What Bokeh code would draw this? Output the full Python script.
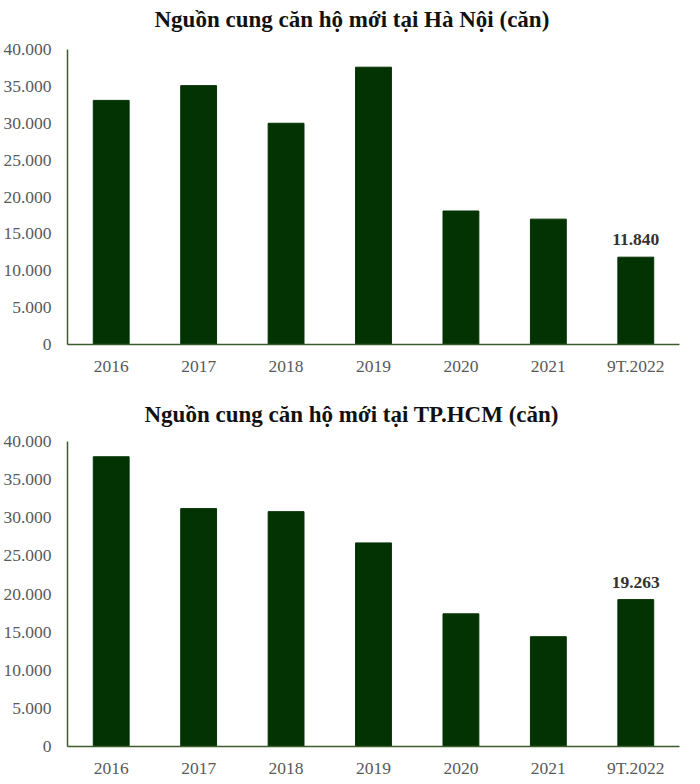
from bokeh.plotting import figure
from bokeh.layouts import column
from bokeh.models import FixedTicker, ColumnDataSource, Label, Range1d
from bokeh.core.properties import value
from bokeh.embed import file_html
from bokeh.resources import INLINE

categories = ["2016", "2017", "2018", "2019", "2020", "2021", "9T.2022"]
hanoi_values = [33100, 35100, 30000, 37600, 18100, 17000, 11840]
hcm_values = [38000, 31200, 30800, 26700, 17400, 14400, 19263]
hanoi_title = "Nguồn cung căn hộ mới tại Hà Nội (căn)"
hcm_title = "Nguồn cung căn hộ mới tại TP.HCM (căn)"
hanoi_last_label = "11.840"
hcm_last_label = "19.263"
y_ticks = [0, 5000, 10000, 15000, 20000, 25000, 30000, 35000, 40000]
y_tick_labels = ["0", "5.000", "10.000", "15.000", "20.000", "25.000", "30.000", "35.000", "40.000"]

BAR = "#033303"
AXIS = "#3d5c2e"
TXT = "#595959"
FONT = "Liberation Serif"


def make_chart(vals, title, last_label, frame_h, axis_px, bottom_b, title_x, title_y):
    y_max = y_ticks[-1]
    # the frame also holds the title; axis_px pixels cover 0..y_max
    y_top = y_max * frame_h / axis_px
    p = figure(x_range=categories, y_range=Range1d(0, y_top), output_backend="svg",
               toolbar_location=None, frame_width=612, frame_height=frame_h,
               min_border_left=60, min_border_right=10, min_border_top=0,
               min_border_bottom=bottom_b)
    p.add_layout(Label(x=title_x, y=title_y, x_units="screen", y_units="screen",
                       text=title, text_font=FONT, text_font_style="bold",
                       text_font_size="23px", text_color="#111111",
                       text_baseline="alphabetic", text_align="left"))
    p.x_range.range_padding = 0
    src = ColumnDataSource(dict(x=categories, top=vals))
    p.vbar(x="x", top="top", width=0.41, source=src, fill_color=BAR, line_color=BAR)
    lab = ColumnDataSource(dict(x=[categories[-1]], y=[vals[-1]], t=[last_label]))
    p.text(x="x", y="y", text="t", source=lab, text_align="center", text_baseline="bottom",
           y_offset=-12, text_font=value(FONT), text_font_style="bold",
           text_font_size="17.5px", text_color="#333333")
    p.xgrid.grid_line_color = None
    p.ygrid.grid_line_color = None
    p.outline_line_color = None
    p.yaxis.ticker = FixedTicker(ticks=y_ticks)
    p.yaxis.bounds = (0, y_max)
    p.yaxis.major_label_overrides = {tv: tl for tv, tl in zip(y_ticks, y_tick_labels)}
    for ax in (p.xaxis, p.yaxis):
        ax.axis_line_color = AXIS
        ax.axis_line_width = 1.5
        ax.major_tick_line_color = None
        ax.minor_tick_line_color = None
        ax.major_label_text_font = FONT
        ax.major_label_text_font_size = "17.5px"
        ax.major_label_text_color = TXT
    p.yaxis.major_label_standoff = 10
    p.xaxis.major_label_standoff = 5
    return p


p1 = make_chart(hanoi_values, hanoi_title, hanoi_last_label, 344, 295, 51, 87, 325)
p2 = make_chart(hcm_values, hcm_title, hcm_last_label, 351, 305, 30, 77, 332)
layout = column(p1, p2, spacing=0)
open("out.html", "w").write(file_html(layout, INLINE))
